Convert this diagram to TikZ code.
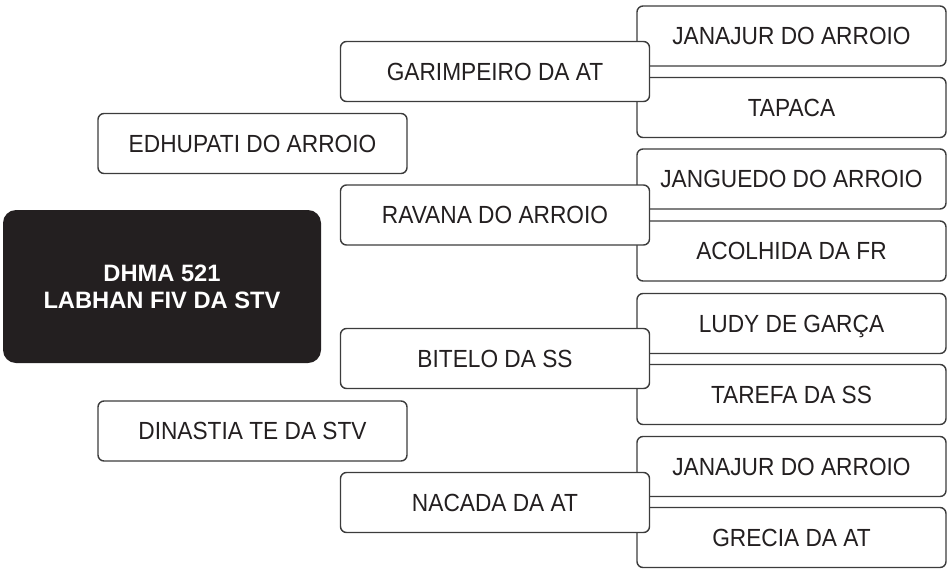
\documentclass[tikz,border=0pt]{standalone}
\usepackage{fontspec}
\setmainfont{Liberation Sans}
\newfontfamily\boxfont{Liberation Sans}[FakeStretch=0.915]
\definecolor{ink}{HTML}{231F20}
\definecolor{rim}{HTML}{3C3C3C}

\begin{document}
\begin{tikzpicture}[x=1pt, y=-1pt,
	topic/.style={draw=rim, line width=1.4pt, fill=white, rounded corners=6pt,
		inner sep=0pt, minimum width=309pt, minimum height=60pt, text=ink,
		font=\boxfont\fontsize{24.8}{28}\selectfont, text height=17.8pt, text depth=0pt},
	core/.style={fill=ink, rounded corners=13pt, inner sep=0pt,
		minimum width=318pt, minimum height=153pt, text=white, align=center,
		font=\bfseries\fontsize{23.7}{27}\selectfont}]
	\useasboundingbox (0,0) rectangle (948,571);
	\foreach \name/\y/\txt in {jan-a/36/JANAJUR DO ARROIO, tapaca/107.5/TAPACA,
		janguedo/179/JANGUEDO DO ARROIO, acolhida/251/ACOLHIDA DA FR,
		ludy/323.5/LUDY DE GARÇA, tarefa/394.5/TAREFA DA SS,
		jan-b/466.5/JANAJUR DO ARROIO, grecia/537.5/GRECIA DA AT}
		\node[topic] (\name) at (791.5,\y) {\txt};
	\foreach \name/\y/\txt in {garimpeiro/71.5/GARIMPEIRO DA AT, ravana/215/RAVANA DO ARROIO,
		bitelo/358.5/BITELO DA SS, nacada/502.5/NACADA DA AT}
		\node[topic] (\name) at (495,\y) {\txt};
	\node[topic] (edhupati) at (252.5,143.5) {EDHUPATI DO ARROIO};
	\node[topic] (dinastia) at (252.5,431) {DINASTIA TE DA STV};
	\node[core] (dhma) at (162,286.5) {DHMA 521\\LABHAN FIV DA STV};
\end{tikzpicture}
\end{document}
